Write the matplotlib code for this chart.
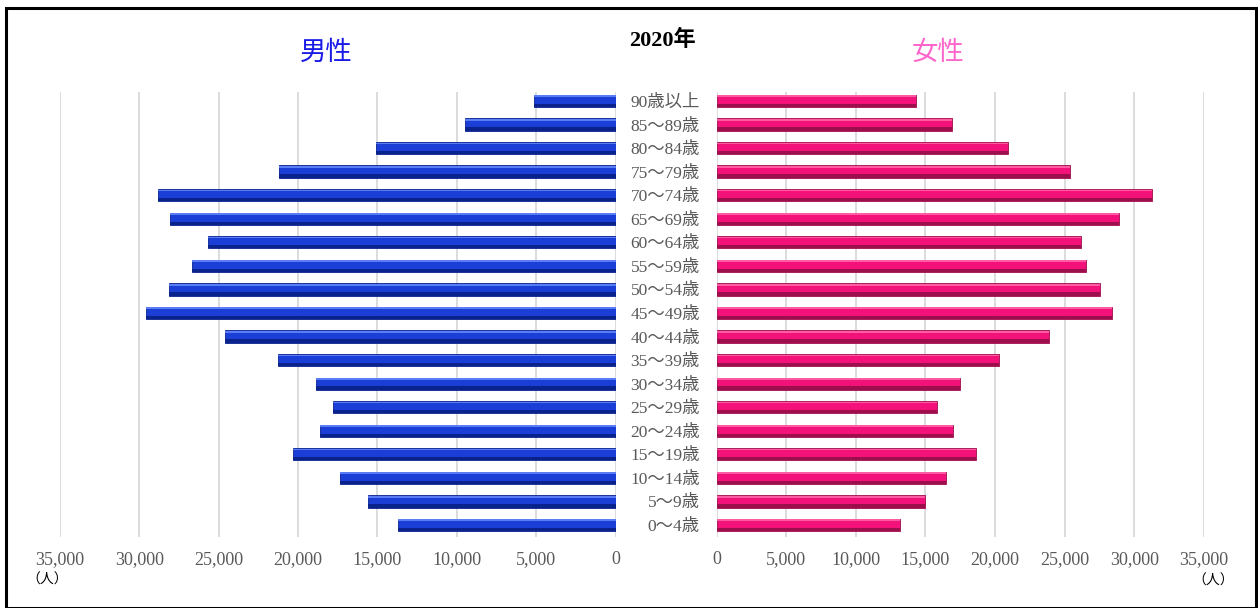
import matplotlib.pyplot as plt
import matplotlib.patches as mpatches
import numpy as np

# 年齢階級（下から上へ）
ages = ["0～4歳", "5～9歳", "10～14歳", "15～19歳", "20～24歳", "25～29歳",
        "30～34歳", "35～39歳", "40～44歳", "45～49歳", "50～54歳", "55～59歳",
        "60～64歳", "65～69歳", "70～74歳", "75～79歳", "80～84歳", "85～89歳",
        "90歳以上"]
male = [13720, 15590, 17350, 20290, 18630, 17830, 18880, 21250, 24610, 29570,
        28120, 26670, 25660, 28070, 28850, 21190, 15100, 9480, 5130]
female = [13180, 15000, 16490, 18620, 16970, 15860, 17470, 20250, 23860, 28390,
          27550, 26520, 26160, 28890, 31290, 25370, 20920, 16920, 14330]
ticks = [0, 5000, 10000, 15000, 20000, 25000, 30000, 35000]
tick_labels = ["{:,}".format(t) for t in ticks]

W, H = 1258, 608
fig = plt.figure(figsize=(W / 100, H / 100), dpi=100)
fig.patch.set_facecolor("white")

serif = ["Liberation Serif", "Noto Sans CJK JP"]
gray = "#595959"

def px(x0, x1, ytop, ybot):
    return [x0 / W, (H - ybot) / H, (x1 - x0) / W, (ybot - ytop) / H]

ax_l = fig.add_axes(px(60, 615.5, 92, 537))
ax_r = fig.add_axes(px(716.5, 1204, 92, 537))

y = np.arange(len(ages))
h = 0.52

def draw_bars(ax, vals, base, dark, light):
    ax.barh(y, vals, height=h, color=base, edgecolor=dark, linewidth=0.6, zorder=3)
    ax.barh(y - h / 2 + 0.07, vals, height=0.14, color=dark, linewidth=0, zorder=4)
    ax.barh(y + h / 2 - 0.06, vals, height=0.07, color=light, linewidth=0, zorder=4)

draw_bars(ax_l, male, "#1a3ed6", "#0a228c", "#5a7cf5")
draw_bars(ax_r, female, "#f2127a", "#9c0f4c", "#ff5aa2")

for ax in (ax_l, ax_r):
    ax.set_ylim(-0.51, 18.38)
    ax.set_xticks(ticks, labels=tick_labels)
    ax.grid(axis="x", color="#d9d9d9", linewidth=1.3, zorder=0)
    ax.set_axisbelow(True)
    for s in ax.spines.values():
        s.set_visible(False)
    ax.tick_params(axis="x", length=0, pad=10, labelcolor=gray, labelsize=13)
    for lab in ax.get_xticklabels():
        lab.set_family(serif)

ax_l.set_xlim(35000, 0)
ax_r.set_xlim(0, 35000)
ax_l.set_yticks([])
ax_r.set_yticks(y, labels=ages)
ax_r.tick_params(axis="y", length=0, pad=12, labelcolor=gray, labelsize=12.5)
for lab in ax_r.get_yticklabels():
    lab.set_family(serif)

fig.text(662 / W, 1 - 40 / H, "2020年", ha="center", va="center", fontsize=16,
         fontweight="bold", family=serif, color="black")
fig.text(326 / W, 1 - 52 / H, "男性", ha="center", va="center", fontsize=19,
         family=["Noto Sans CJK JP"], color="#1a1ae6")
fig.text(938 / W, 1 - 52 / H, "女性", ha="center", va="center", fontsize=19,
         family=["Noto Sans CJK JP"], color="#ff66cc")
fig.text(47 / W, 1 - 580 / H, "（人）", ha="center", va="center", fontsize=10,
         family=["Noto Sans CJK JP"], color="black")
fig.text(1213 / W, 1 - 581 / H, "（人）", ha="center", va="center", fontsize=10,
         family=["Noto Sans CJK JP"], color="black")

fig.patches.append(mpatches.Rectangle((6 / W, 0.5 / H), 1250 / W, (H - 8.5) / H,
                                      transform=fig.transFigure, fill=False,
                                      edgecolor="black", linewidth=2.2))

fig.savefig("out.png", dpi=100)
plt.close(fig)
